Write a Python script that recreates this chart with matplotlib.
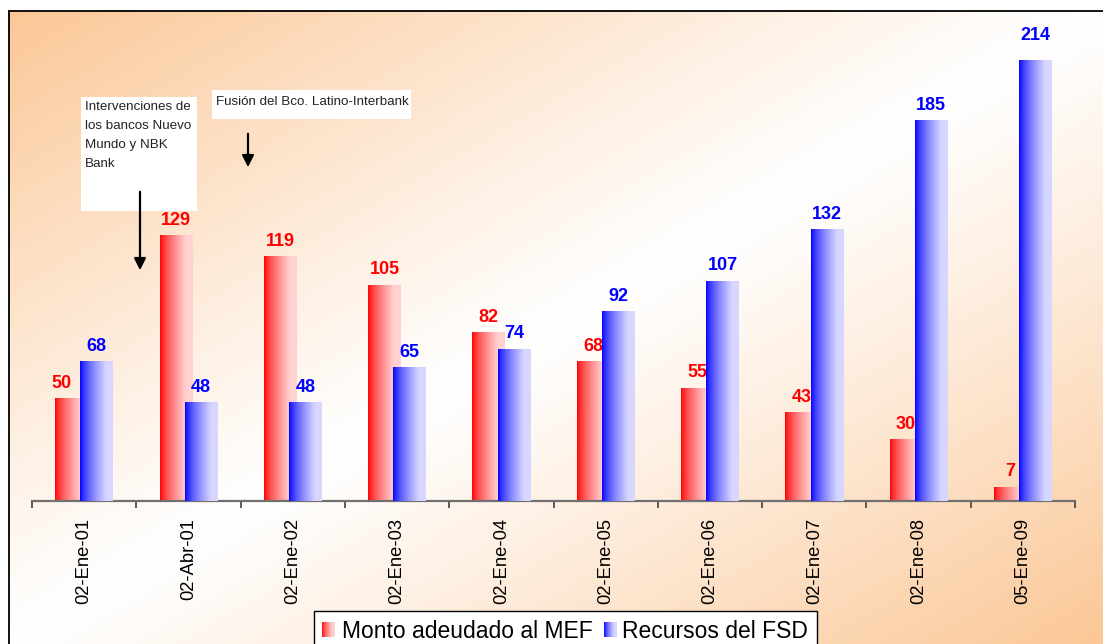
import numpy as np
import matplotlib
matplotlib.use("Agg")
import matplotlib.pyplot as plt
from matplotlib.patches import Rectangle

# ---------------- data ----------------
categories = ['02-Ene-01', '02-Abr-01', '02-Ene-02', '02-Ene-03', '02-Ene-04',
              '02-Ene-05', '02-Ene-06', '02-Ene-07', '02-Ene-08', '05-Ene-09']
monto_mef = [50, 129, 119, 105, 82, 68, 55, 43, 30, 7]
recursos_fsd = [68, 48, 48, 65, 74, 92, 107, 132, 185, 214]
series_names = ['Monto adeudado al MEF', 'Recursos del FSD']
annot1 = 'Intervenciones de\nlos bancos Nuevo\nMundo y NBK\nBank'
annot2 = 'Fusión del Bco. Latino-Interbank'

W, H = 1103, 644
DPI = 100
plt.rcParams['font.family'] = ['Liberation Sans', 'DejaVu Sans']
NARROW = ['Liberation Sans Narrow', 'Liberation Sans', 'DejaVu Sans']

fig = plt.figure(figsize=(W / DPI, H / DPI), dpi=DPI, facecolor='white')

# ---------------- background gradient ----------------
bg = fig.add_axes([0, 0, 1, 1], zorder=0)
bg.set_xlim(0, W)
bg.set_ylim(H, 0)
bg.axis('off')
nx, ny = 400, 240
u = np.linspace(0, 1, nx)[None, :]
v = np.linspace(0, 1, ny)[:, None]
t = (u + v) / 2.0
f = np.clip(np.abs(t - 0.5) * 2.0, 0, 1) ** 1.1
orange = np.array([251, 199, 150]) / 255.0
white = np.array([1.0, 1.0, 1.0])
img = white[None, None, :] * (1 - f[..., None]) + orange[None, None, :] * f[..., None]
bg.imshow(img, extent=(8, W, H, 10), aspect='auto', interpolation='bilinear', zorder=0)
bg.plot([9, 9], [10, H], color='black', lw=1.3, zorder=1, solid_capstyle='butt')
bg.plot([9, W], [10.5, 10.5], color='black', lw=1.3, zorder=1, solid_capstyle='butt')

# ---------------- main axes ----------------
ax = fig.add_axes([32 / W, 143 / H, (1075 - 32) / W, (501 - 10) / H], zorder=1)
ax.set_facecolor('none')
ax.set_xlim(-0.5, len(categories) - 0.5)
ax.set_ylim(0, 238.3)
for s in ['top', 'right', 'left']:
    ax.spines[s].set_visible(False)
ax.spines['bottom'].set_color('#707070')
ax.spines['bottom'].set_linewidth(1.6)
ax.set_yticks([])
x = np.arange(len(categories))
ax.set_xticks(x)
ax.set_xticklabels(categories, rotation=90, fontsize=13.2, color='black')
ax.tick_params(axis='x', which='major', length=0, pad=12)
ax.set_xticks(np.arange(len(categories) + 1) - 0.5, minor=True)
ax.tick_params(axis='x', which='minor', length=5, width=1.2, color='#404040', direction='out')

w = 0.312
off = 0.1207


def grad_img(c0, c1, n=64):
    s = np.linspace(0, 1, n)
    s = np.clip(s / 0.8, 0, 1) ** 0.7
    c0 = np.array(c0); c1 = np.array(c1)
    row = c0[None, :] * (1 - s[:, None]) + c1[None, :] * s[:, None]
    return row[None, :, :]


red_grad = grad_img([1.0, 0.0, 0.0], [1.0, 0.82, 0.82])
blue_grad = grad_img([0.0, 0.0, 1.0], [0.84, 0.84, 1.0])

bars_r = ax.bar(x - off, monto_mef, width=w, color='none', edgecolor='none', zorder=2)
bars_b = ax.bar(x + off, recursos_fsd, width=w, color='none', edgecolor='none', zorder=3)
for bars, g, z in [(bars_r, red_grad, 2), (bars_b, blue_grad, 3)]:
    for p in bars:
        x0, y0 = p.get_x(), p.get_y()
        im = ax.imshow(g, extent=(x0, x0 + p.get_width(), y0, y0 + p.get_height()),
                       aspect='auto', interpolation='bilinear', zorder=z)
        im.set_clip_path(p)
ax.set_xlim(-0.5, len(categories) - 0.5)
ax.set_ylim(0, 238.3)

# label adjustments (points)
red_dx = {0: -7.5}
blue_dy = {9: 7}
for i, p in enumerate(bars_r):
    ax.annotate(str(monto_mef[i]), (p.get_x() + p.get_width() / 2, p.get_height()),
                xytext=(red_dx.get(i, 0), 4.5), textcoords='offset points',
                ha='center', va='bottom', color='#ff0000', fontsize=13,
                fontweight='bold', zorder=2.5)
for i, p in enumerate(bars_b):
    ax.annotate(str(recursos_fsd[i]), (p.get_x() + p.get_width() / 2, p.get_height()),
                xytext=(0, 4.5 + blue_dy.get(i, 0)), textcoords='offset points',
                ha='center', va='bottom', color='#0000ff', fontsize=13,
                fontweight='bold', zorder=4)

# ---------------- overlay: annotations & legend ----------------
ov = fig.add_axes([0, 0, 1, 1], zorder=2)
ov.set_facecolor('none')
ov.set_xlim(0, W)
ov.set_ylim(H, 0)
ov.axis('off')

ov.add_patch(Rectangle((81, 97), 116, 114, facecolor='white', edgecolor='none', zorder=1))
ov.text(85, 101, annot1, ha='left', va='top', fontsize=9.6, family=NARROW,
        linespacing=1.78, color='#222222', zorder=2)
ov.annotate('', xy=(140, 273), xytext=(140, 189),
            arrowprops=dict(arrowstyle='-|>,head_width=0.35,head_length=0.7',
                            color='black', lw=1.6))

ov.add_patch(Rectangle((212, 90), 199, 29, facecolor='white', edgecolor='none', zorder=1))
ov.text(216, 102, annot2, ha='left', va='center', fontsize=9.6, family=NARROW,
        color='#222222', zorder=2)
ov.annotate('', xy=(248, 170), xytext=(248, 131),
            arrowprops=dict(arrowstyle='-|>,head_width=0.35,head_length=0.7',
                            color='black', lw=1.6))

# legend
ov.add_patch(Rectangle((314, 611), 503, 45, facecolor='white', edgecolor='black', lw=1.0, zorder=1))
ov.imshow(red_grad, extent=(322, 335, 637, 622), aspect='auto', interpolation='bilinear', zorder=3)
ov.imshow(blue_grad, extent=(604, 617, 637, 622), aspect='auto', interpolation='bilinear', zorder=3)
ov.set_xlim(0, W)
ov.set_ylim(H, 0)
ov.text(341.5, 638.5, series_names[0], ha='left', va='baseline', fontsize=16.5, color='black', zorder=3)
ov.text(622.5, 638.5, series_names[1], ha='left', va='baseline', fontsize=16.5, color='black', zorder=3)

fig.savefig('out.png', dpi=DPI, facecolor='white')
